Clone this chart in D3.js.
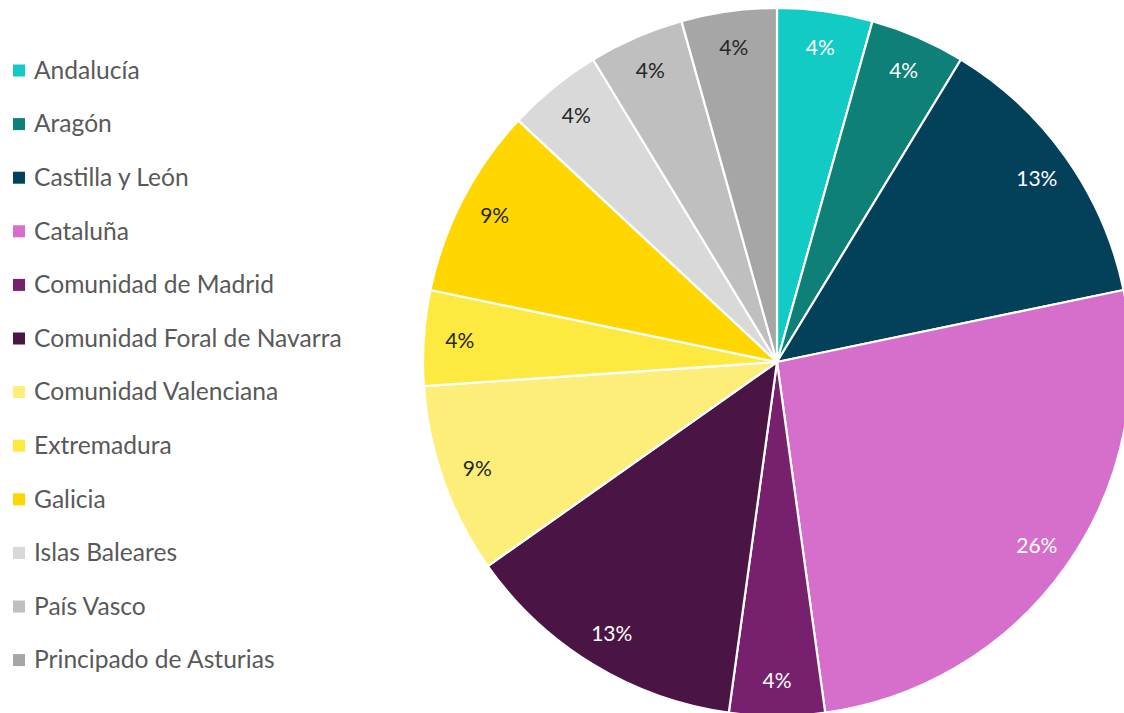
<!DOCTYPE html>
<html>
<head>
<meta charset="utf-8">
<script src="https://cdn.jsdelivr.net/npm/d3@7"></script>
<style>
  html, body { margin: 0; padding: 0; background: #ffffff; }
  svg { display: block; }
  text { font-family: Lato, "Open Sans", sans-serif; }
</style>
</head>
<body>
<svg id="chart" width="1124" height="713"></svg>
<script>
// Regions and the number of entries for each
const categories = [
  "Andalucía", "Aragón", "Castilla y León", "Cataluña",
  "Comunidad de Madrid", "Comunidad Foral de Navarra", "Comunidad Valenciana",
  "Extremadura", "Galicia", "Islas Baleares", "País Vasco", "Principado de Asturias"
];
const counts = [1, 1, 3, 6, 1, 3, 2, 1, 2, 1, 1, 1];

const colors = [
  "#12cbc4", "#0e8077", "#03405a", "#d66ecc",
  "#76206e", "#4a1544", "#fdee7a",
  "#fde93f", "#ffd600", "#d9d9d9", "#bfbfbf", "#a6a6a6"
];
const labelColors = [
  "#ffffff", "#ffffff", "#ffffff", "#ffffff",
  "#ffffff", "#ffffff", "#262626",
  "#262626", "#262626", "#262626", "#262626", "#262626"
];

const svg = d3.select("#chart");
const total = d3.sum(counts);
const data = categories.map((c, i) => ({ name: c, value: counts[i], i }));

// Pie
const cx = 777, cy = 362, R = 354;
const pie = d3.pie().sort(null).value(d => d.value);
const arc = d3.arc().innerRadius(0).outerRadius(R);
const labelArc = d3.arc().innerRadius(318).outerRadius(318);
const fmt = v => Math.round(v / total * 100) + "%";

const g = svg.append("g").attr("transform", `translate(${cx},${cy})`);
const arcs = pie(data);

g.selectAll("path.slice")
  .data(arcs)
  .join("path")
  .attr("class", "slice")
  .attr("d", arc)
  .attr("fill", d => colors[d.data.i])
  .attr("stroke", "#ffffff")
  .attr("stroke-width", 2.2)
  .attr("stroke-linejoin", "round");

g.selectAll("text.pct")
  .data(arcs)
  .join("text")
  .attr("class", "pct")
  .attr("transform", d => `translate(${labelArc.centroid(d)})`)
  .attr("text-anchor", "middle")
  .attr("dy", "0.36em")
  .attr("font-size", 21)
  .attr("fill", d => labelColors[d.data.i])
  .text(d => fmt(d.data.value));

// Legend
const legend = svg.append("g").attr("transform", "translate(13,70)");
const rowStep = 53.6;
const rows = legend.selectAll("g.item")
  .data(data)
  .join("g")
  .attr("class", "item")
  .attr("transform", (d, i) => `translate(0,${i * rowStep})`);

rows.append("rect")
  .attr("x", 0).attr("y", -5.5)
  .attr("width", 12).attr("height", 12)
  .attr("fill", d => colors[d.i]);

rows.append("text")
  .attr("x", 21)
  .attr("y", 0)
  .attr("dy", "0.36em")
  .attr("font-size", 24.6)
  .attr("fill", "#595959")
  .text(d => d.name);
</script>
</body>
</html>
